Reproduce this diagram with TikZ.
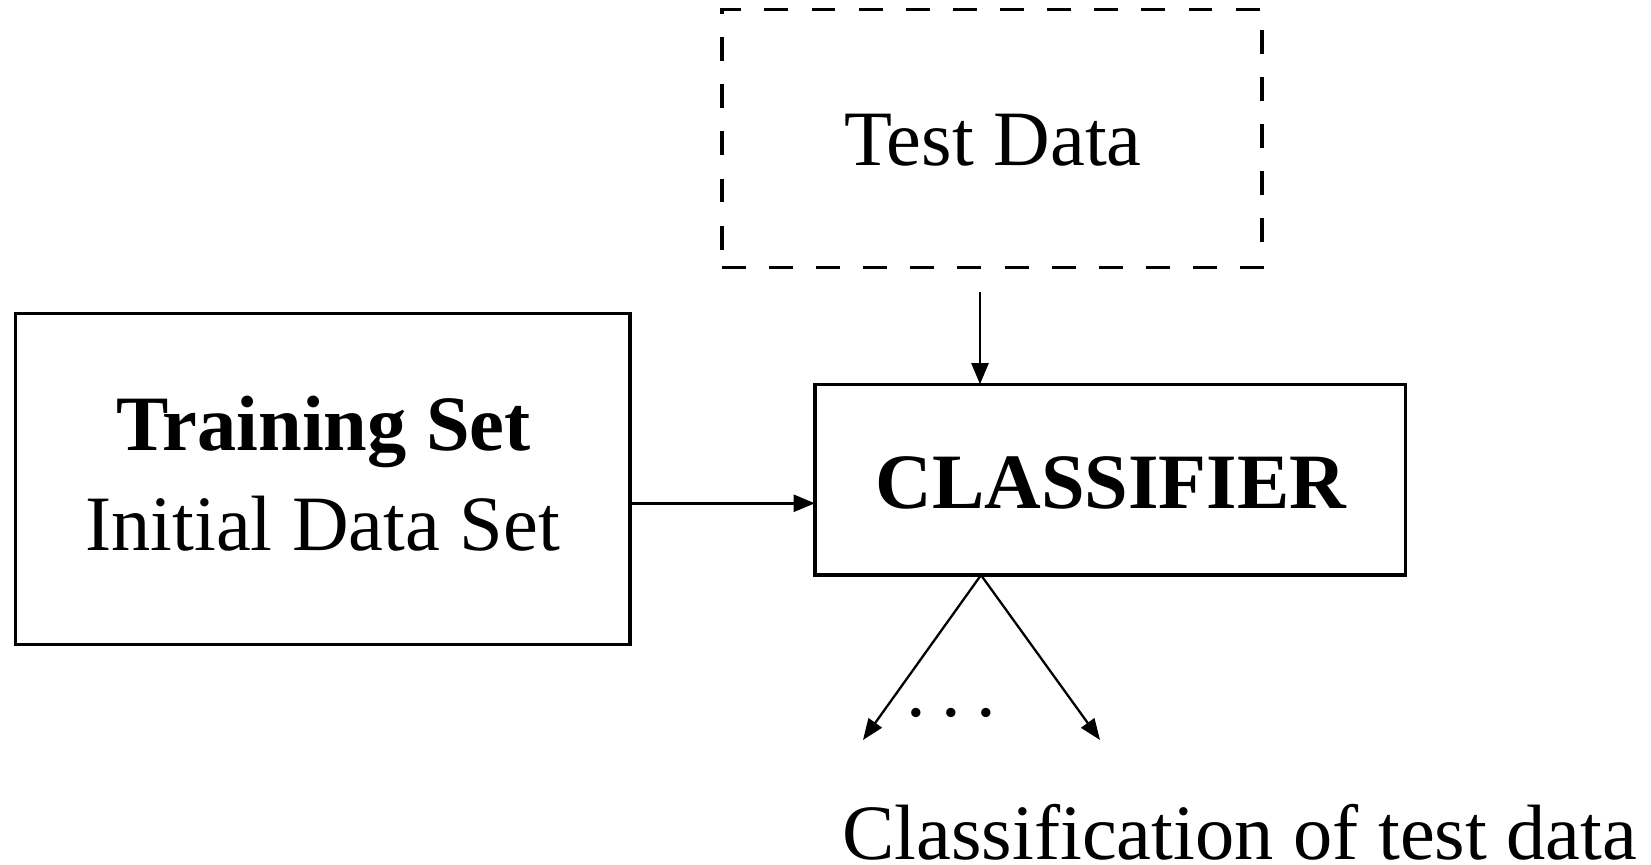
\documentclass[tikz,border=0pt]{standalone}
\usepackage{fontspec}
\setmainfont{Liberation Serif}
\usetikzlibrary{arrows.meta}
\begin{document}
\begin{tikzpicture}[x=0.01cm,y=-0.01cm,
  boxnode/.style={draw,line width=0.95pt,inner sep=0pt,outer sep=0pt},
  dashbox/.style={boxnode,dash pattern=on 6.8pt off 6.6pt},
  lbl/.style={anchor=base,inner sep=0pt,font=\fontsize{22.3}{26}\selectfont},
  conn/.style={line width=0.8pt,-{Triangle[length=6pt,width=4.8pt]}},
  diag/.style={line width=0.65pt,-{Triangle[length=6pt,width=4.6pt]}}]
\useasboundingbox (0,0) rectangle (1651,865);
% boxes
\node[boxnode,minimum width=6.14cm,minimum height=3.31cm] (train) at (322.7,479) {};
\node[boxnode,minimum width=5.906cm,minimum height=1.907cm] (cls) at (1110.3,479.7) {};
\node[dashbox,minimum width=5.40cm,minimum height=2.58cm] (test) at (992,138.5) {};
% texts
\node[lbl] (testlbl) at (993,165.3) {Test Data};
\node[lbl] (trainA) at (323.5,450.6) {\bfseries Training Set};
\node[lbl] (trainB) at (322.7,550.7) {Initial Data Set};
\node[lbl] (clslbl) at (1110.8,508.6) {\bfseries CLASSIFIER};
\node[lbl] (out) at (1239.8,860) {Classification of test data};
\node[inner sep=0pt,font=\fontsize{22.3}{26}\selectfont] (dots) at (951,712.7) {.\kern4.4pt.\kern4.4pt.};
% connectors
\coordinate (hy) at (0,503.3);
\coordinate (vtop) at (980,291.6);
\coordinate (ox) at (981,0);
\coordinate (endL) at (863,740);
\coordinate (endR) at (1100,740);
\draw[conn] (train.east |- hy) -- (cls.west |- hy);
\draw[conn] (vtop) -- (cls.north -| vtop);
\draw[diag] (cls.south -| ox) -- (endL);
\draw[diag] (cls.south -| ox) -- (endR);
\end{tikzpicture}
\end{document}
